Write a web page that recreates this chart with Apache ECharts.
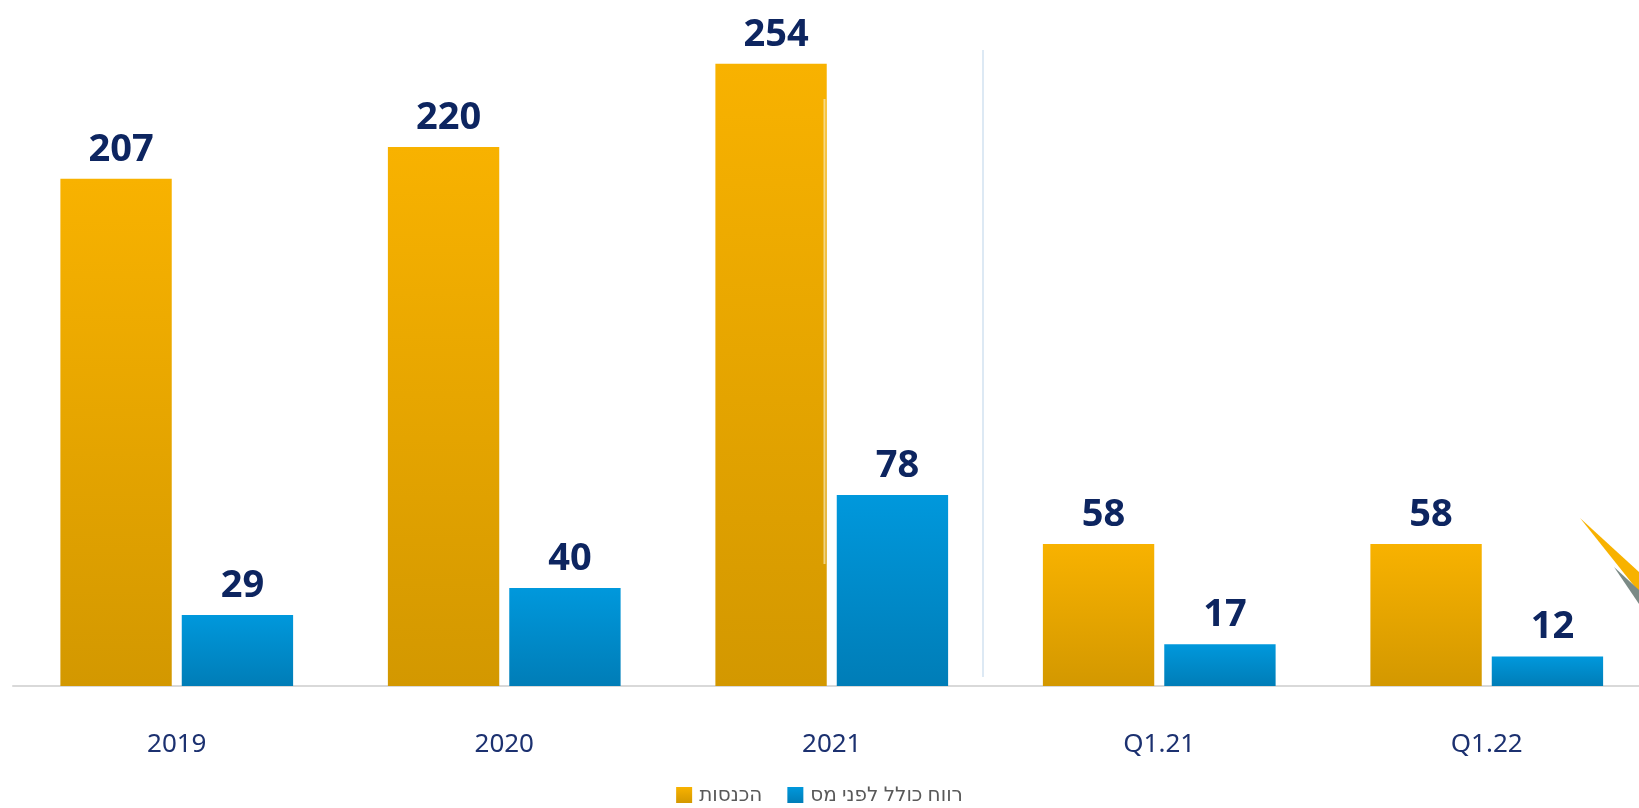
<!DOCTYPE html>
<html>
<head>
<meta charset="utf-8">
<title>הכנסות ורווח</title>
<script src="https://cdn.jsdelivr.net/npm/echarts@6/dist/echarts.min.js"></script>
<style>
  html, body { margin: 0; padding: 0; background: #fff; }
  #chart { width: 1639px; height: 808px; }
</style>
</head>
<body>
<div id="chart"></div>
<script>
// נתונים
const categories = ["2019", "2020", "2021", "Q1.21", "Q1.22"];
const revenue = [207, 220, 254, 58, 58];
const profitBeforeTax = [29, 40, 78, 17, 12];
const seriesNames = ["הכנסות", "רווח כולל לפני מס"];

const chart = echarts.init(document.getElementById("chart"));

// צבעי גרדיאנט לעמודות
const goldGradient = new echarts.graphic.LinearGradient(0, 0, 0, 1, [
  { offset: 0, color: "#f8b200" },
  { offset: 1, color: "#d39800" },
]);
const blueGradient = new echarts.graphic.LinearGradient(0, 0, 0, 1, [
  { offset: 0, color: "#0098dc" },
  { offset: 1, color: "#007db7" },
]);

const valueLabel = {
  show: true,
  position: "top",
  distance: 10,
  offset: [5, 0],
  color: "#0d2560",
  fontSize: 38,
  fontWeight: "bold",
  fontFamily: "Noto Sans",
};

const option = {
  animation: false,
  backgroundColor: "#ffffff",
  grid: {
    left: 13,
    width: 1637.5, // הגרף נחתך מעט בצד ימין
    top: 0,
    bottom: 122,
    outerBoundsMode: "none",
  },
  legend: {
    bottom: -2,
    left: "center",
    itemWidth: 16,
    itemHeight: 16,
    itemGap: 25,
    icon: "rect",
    data: seriesNames,
    textStyle: {
      color: "#595959",
      fontSize: 20,
      fontFamily: "Noto Sans, DejaVu Sans",
      padding: [0, 0, 0, 2],
    },
  },
  xAxis: {
    type: "category",
    data: categories,
    axisLine: { lineStyle: { color: "#d9d9d9", width: 2 } },
    axisTick: { show: false },
    axisLabel: {
      margin: 46,
      color: "#1c3170",
      fontSize: 26,
      fontFamily: "Noto Sans",
    },
  },
  yAxis: {
    type: "value",
    min: 0,
    max: 280,
    show: false,
    splitLine: { show: false },
  },
  series: [
    {
      name: seriesNames[0],
      type: "bar",
      data: revenue,
      barWidth: "34%",
      barGap: "9%",
      itemStyle: { color: goldGradient },
      label: valueLabel,
    },
    {
      name: seriesNames[1],
      type: "bar",
      data: profitBeforeTax,
      barWidth: "34%",
      itemStyle: { color: blueGradient },
      label: valueLabel,
    },
  ],
  graphic: [
    // קו הפרדה בין השנים לרבעונים
    {
      type: "line",
      shape: { x1: 983, y1: 50, x2: 983, y2: 677 },
      style: { stroke: "#dde9f4", lineWidth: 2 },
      z: 1,
    },
    // קו דק בתוך עמודת 2021
    {
      type: "line",
      shape: { x1: 824.5, y1: 99, x2: 824.5, y2: 564 },
      style: { stroke: "rgba(250,235,190,0.7)", lineWidth: 2 },
      z: 10,
    },
    // קישוט בפינה הימנית
    {
      type: "polygon",
      shape: { points: [[1580, 518], [1639, 572], [1639, 592]] },
      style: { fill: "#f8b200" },
      z: 10,
    },
    {
      type: "polygon",
      shape: { points: [[1614, 567], [1639, 590], [1639, 604]] },
      style: { fill: "#7a8a86" },
      z: 10,
    },
  ],
};

chart.setOption(option);
</script>
</body>
</html>
